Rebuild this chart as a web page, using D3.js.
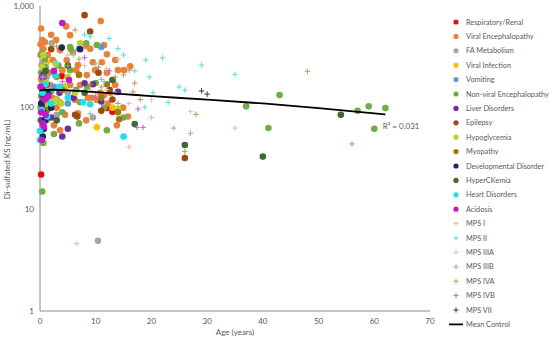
<!DOCTYPE html>
<html>
<head>
<meta charset="utf-8">
<script src="https://cdn.jsdelivr.net/npm/d3@7"></script>
<style>
  body { margin: 0; background: #fff; }
  svg { font-family: Lato, "Open Sans", sans-serif; }
  .tick-label, .axis-title { fill: #595959; font-size: 8px; }
  .legend-label { fill: #595959; font-size: 7.3px; }
</style>
</head>
<body>
<div id="chart"></div>
<script>
// series in legend order: [age, value]
var respiratory = [[0.2,22],[3.9,205],[12,99],[13,91],[1.2,165],[0.5,120]];
var viralEnceph = [[0.2,600],[0.4,462],[0.9,440],[4.7,630],[10.9,710],[5.4,517],[5.9,350],[2.9,462],[8.3,405],[9,380],
  [11.5,413],[12,335],[3.6,368],[6.5,234],[6.8,262],[9.9,234],[8.4,209],[4,234],[12,220],[13.1,187],[14,234],[5.4,167],
  [7.2,167],[4.3,149],[2.2,125],[8.6,125],[9.3,125],[10.8,140],[11.5,133],[12.6,140],[13.5,167],[3.6,113],[6.3,119],
  [1.3,95],[3,100],[4.5,85],[6.8,88],[8.3,75],[10.2,119],[12.2,110],[14.9,100],[15.8,82],[13.8,67],[2.5,67],[3.6,60],
  [0.9,245],[1.4,329],[1.8,167],[15.1,234],[16.2,255],[11.1,280],[4.8,294],[9.5,280],[13.5,294],[2.3,294],[0.1,330],[0.3,260],
  [0.6,380],[0.2,190],[1.1,140],[0.7,105],[0.4,68],[1.6,220],[0.1,420],[2,520]];
var faMetab = [[10.4,4.9],[2.1,430],[3,85],[9.5,80],[1.2,200],[5,140],[0.5,280]];
var viralInfection = [[10.2,64],[1.2,280],[0.8,150],[13,100],[0.3,200]];
var vomiting = [[11,395],[7,380],[0.8,130],[2.5,160],[5,110]];
var nonViralEnceph = [[37,103],[41,63],[43,133],[57,93],[59,103],[62,99],[60,62],[0.4,15],[7,70],[0.2,130],[0.5,95],
  [0.8,180],[1,250],[0.3,60],[1.5,110],[2,145],[3,200],[4,90],[5.5,380],[6.5,150],[2.5,55],[0.6,45],[1.2,75],[8.5,160],
  [11.5,100],[10,175],[3.3,260],[15,80],[12,60],[0.1,100],[0.9,300],[5.4,395],[8.3,430],[10.2,413],[5.4,234],[7.2,113],
  [0.2,220],[0.6,160],[0.3,340],[1.1,110],[0.1,75]];
var liver = [[5,62],[8,174],[11,115],[14,143],[2,80],[0.5,130],[0.8,100],[1.2,170],[0.3,75],[3.5,140],[9.5,170],[6,125],[0.6,210],[4,52]];
var epilepsy = [[8,813],[9,560],[2,375],[6.3,85],[6.7,82],[11,93],[13,120],[26,32],[10.5,220],[4.5,160],[1,140],[12.5,150],[3,120]];
var hypoglycemia = [[7.2,430],[5,200],[3,120],[0.6,330],[14,97],[2.4,115],[3.8,110],[1.5,105],[0.4,250],[2.8,270],[6.3,140],[1,180],[4.5,160]];
var myopathy = [[14,90],[14.2,77],[11,125],[1.3,95],[4,150],[0.7,200],[7,210],[12,170]];
var developmental = [[3.9,390],[0.4,149],[0.9,75],[7.2,375],[0.2,110],[0.6,90],[1.1,125],[0.3,160],[0.7,62],[1.5,140],[0.5,52],[2,100]];
var hyperCK = [[17,69],[26,43],[40,33],[54,85],[13,187],[1,230],[8,140],[5,260],[3,75]];
var heart = [[15,52],[0,59],[2.7,209],[7.7,113],[0,48],[1,170],[0.5,140],[2,110],[0.3,95],[1.3,82],[5,125],[9,108],[3.5,160]];
var acidosis = [[4,680],[5.2,187],[0.5,70],[0.3,48],[0.2,90],[1,85],[0.7,65],[1.5,130],[0.4,200],[0.1,160],[2.5,230],[0.8,120]];
var mps1 = [[6.6,4.6],[35,63],[16,41],[9,150],[12,240],[20,80],[14,300],[5,330]];
var mps2 = [[22,309],[29,262],[35,213],[25,160],[26,149],[23,113],[12.4,480],[15,330],[19,294],[19.6,200],[20.3,140],
  [18.8,101],[8,520],[9,500],[10,270],[3,280],[6,330],[11.5,180],[14,380],[17,230],[0.5,200],[2,150]];
var mps3a = [[27,92],[16,110],[12,150],[8,260],[20,120]];
var mps3b = [[27,56],[24,63],[9,87],[11,190],[6,150],[13.5,140]];
var mps4a = [[28,86],[48,228],[56,44],[26,37],[17,174],[6.3,580],[8,420],[16,234],[15,210],[16.7,143],[10.5,250],
  [13.5,200],[9,170],[7,300],[12,330],[3,400],[5,260],[18,120],[14,110],[11,160]];
var mps4b = [[17.6,97],[17.4,64],[18.5,64],[10,130],[8,310],[12.5,230],[4,180]];
var mps7 = [[29,146],[30,136]];

// mean control trend line
var controlAges = [0, 2, 5, 10, 15, 20, 30, 40, 50, 62];
var controlValues = [148, 150, 148, 142, 136, 130, 120, 110, 99, 86];

var xTicks = [0, 10, 20, 30, 40, 50, 60, 70];
var yTicks = [1, 10, 100, 1000];

var series = [
  {name: "Respiratory/Renal", data: respiratory, color: "#e00f0f", shape: "dot"},
  {name: "Viral Encephalopathy", data: viralEnceph, color: "#e9813b", shape: "dot"},
  {name: "FA Metabolism", data: faMetab, color: "#a5a5a5", shape: "dot"},
  {name: "Viral Infection", data: viralInfection, color: "#fcbf0c", shape: "dot"},
  {name: "Vomiting", data: vomiting, color: "#5b9bd5", shape: "dot"},
  {name: "Non-viral Encephalopathy", data: nonViralEnceph, color: "#70ad47", shape: "dot"},
  {name: "Liver Disorders", data: liver, color: "#6a2ea0", shape: "dot"},
  {name: "Epilepsy", data: epilepsy, color: "#9e4a12", shape: "dot"},
  {name: "Hypoglycemia", data: hypoglycemia, color: "#b8d431", shape: "dot"},
  {name: "Myopathy", data: myopathy, color: "#9c7a10", shape: "dot"},
  {name: "Developmental Disorder", data: developmental, color: "#1a2a5e", shape: "dot"},
  {name: "HyperCKemia", data: hyperCK, color: "#43682b", shape: "dot"},
  {name: "Heart Disorders", data: heart, color: "#1ee0ea", shape: "dot"},
  {name: "Acidosis", data: acidosis, color: "#c21ac8", shape: "dot"},
  {name: "MPS I", data: mps1, color: "#f2b48a", shape: "plus"},
  {name: "MPS II", data: mps2, color: "#55dde6", shape: "plus"},
  {name: "MPS IIIA", data: mps3a, color: "#c8ccb0", shape: "plus"},
  {name: "MPS IIIB", data: mps3b, color: "#95aac8", shape: "plus"},
  {name: "MPS IVA", data: mps4a, color: "#c29457", shape: "plus"},
  {name: "MPS IVB", data: mps4b, color: "#c860c8", shape: "plus"},
  {name: "MPS VII", data: mps7, color: "#3a3a3a", shape: "plus"}
];

var width = 550, height = 340;
var margin = {top: 6, right: 120, bottom: 29, left: 40};

var x = d3.scaleLinear().domain([0, 70]).range([margin.left, width - margin.right]);
var y = d3.scaleLog().domain([1, 1000]).range([height - margin.bottom, margin.top]);

var svg = d3.select("#chart").append("svg")
    .attr("width", width)
    .attr("height", height);

// axis lines
svg.append("line")
    .attr("x1", x(0)).attr("x2", x(0))
    .attr("y1", y(1000)).attr("y2", y(1))
    .attr("stroke", "#8c8c8c").attr("stroke-width", 1);
svg.append("line")
    .attr("x1", x(0)).attr("x2", x(70))
    .attr("y1", y(1)).attr("y2", y(1))
    .attr("stroke", "#8c8c8c").attr("stroke-width", 1);

// tick labels
svg.selectAll(".ytick").data(yTicks).enter().append("text")
    .attr("class", "tick-label")
    .attr("x", x(0) - 6)
    .attr("y", function(d) { return y(d); })
    .attr("dy", "0.35em")
    .attr("text-anchor", "end")
    .text(function(d) { return d3.format(",")(d); });

svg.selectAll(".xtick").data(xTicks).enter().append("text")
    .attr("class", "tick-label")
    .attr("x", function(d) { return x(d); })
    .attr("y", y(1) + 13)
    .attr("text-anchor", "middle")
    .text(function(d) { return d; });

svg.append("text")
    .attr("class", "axis-title")
    .attr("x", x(35))
    .attr("y", height - 5)
    .attr("text-anchor", "middle")
    .text("Age (years)");

svg.append("text")
    .attr("class", "axis-title")
    .attr("transform", "translate(10," + y(31) + ") rotate(-90)")
    .attr("text-anchor", "middle")
    .text("Di-sulfated KS (ng/mL)");

function plusPath(s) {
  return "M" + (-s) + ",0H" + s + "M0," + (-s) + "V" + s;
}

// data markers, drawn in series order
series.forEach(function(s) {
  var g = svg.append("g");
  if (s.shape === "dot") {
    g.selectAll("circle").data(s.data).enter().append("circle")
        .attr("cx", function(d) { return x(d[0]); })
        .attr("cy", function(d) { return y(d[1]); })
        .attr("r", 3.3)
        .attr("fill", s.color);
  } else {
    g.selectAll("path").data(s.data).enter().append("path")
        .attr("transform", function(d) { return "translate(" + x(d[0]) + "," + y(d[1]) + ")"; })
        .attr("d", plusPath(2.8))
        .attr("stroke", s.color)
        .attr("stroke-width", 1)
        .attr("fill", "none");
  }
});

// mean control line
var line = d3.line()
    .x(function(d) { return x(d[0]); })
    .y(function(d) { return y(d[1]); })
    .curve(d3.curveMonotoneX);

svg.append("path")
    .datum(d3.zip(controlAges, controlValues))
    .attr("d", line)
    .attr("fill", "none")
    .attr("stroke", "#000")
    .attr("stroke-width", 1.8);

svg.append("text")
    .attr("class", "tick-label")
    .attr("x", x(61.5))
    .attr("y", y(controlValues[controlValues.length - 1]) + 15)
    .text("R² = 0.031");

// legend
var legend = svg.append("g").attr("transform", "translate(456,22)");
var step = 14.4;

series.forEach(function(s, i) {
  var row = legend.append("g").attr("transform", "translate(0," + (i * step) + ")");
  if (s.shape === "dot") {
    row.append("circle").attr("r", 2.6).attr("fill", s.color);
  } else {
    row.append("path").attr("d", plusPath(2.6))
        .attr("stroke", s.color).attr("stroke-width", 1).attr("fill", "none");
  }
  row.append("text")
      .attr("class", "legend-label")
      .attr("x", 10)
      .attr("dy", "0.35em")
      .text(s.name);
});

var lastRow = legend.append("g").attr("transform", "translate(0," + (series.length * step) + ")");
lastRow.append("line")
    .attr("x1", -7).attr("x2", 7)
    .attr("stroke", "#000").attr("stroke-width", 1.8);
lastRow.append("text")
    .attr("class", "legend-label")
    .attr("x", 10)
    .attr("dy", "0.35em")
    .text("Mean Control");
</script>
</body>
</html>
